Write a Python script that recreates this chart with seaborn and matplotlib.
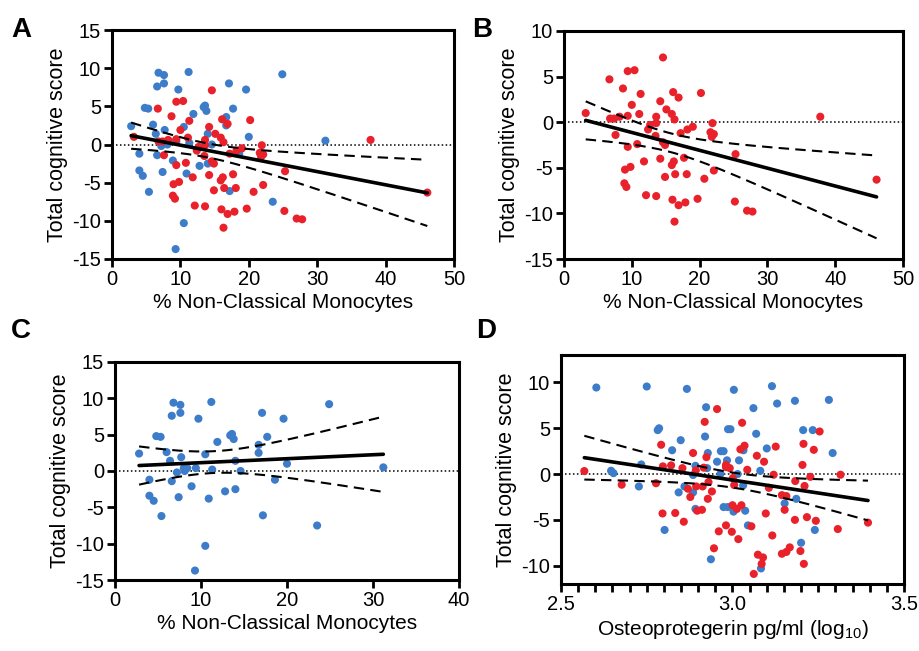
import numpy as np
import pandas as pd
import seaborn as sns
import matplotlib
matplotlib.use("Agg")
import matplotlib.pyplot as plt
from matplotlib.ticker import MultipleLocator, FormatStrFormatter

# --- data ---
# blue group (panel C), % non-classical monocytes vs total cognitive score
blue_mono = [2.8, 4.0, 4.0, 4.5, 5.4, 4.8, 5.3, 6.0, 6.4, 6.6, 6.8, 7.6, 7.6, 6.6,
             7.7, 7.4, 7.2, 8.0, 8.4, 8.1, 8.9, 9.3, 9.7, 10.5, 10.5, 9.4, 11.2,
             10.9, 11.3, 11.9, 12.8, 13.4, 13.6, 13.8, 14.0, 14.0, 14.6, 16.7,
             16.7, 17.1, 17.2, 17.7, 18.6, 19.6, 20.0, 23.5, 24.9, 31.2]
blue_score = [2.4, -1.2, -3.4, -4.1, -6.2, 4.8, 4.7, 2.6, 1.4, -1.4, 9.4, 9.1, 8.0,
              7.6, 1.9, -3.6, -0.2, 0.4, 0.4, 0.0, -2.1, -13.7, 7.2, 2.3, -10.3,
              0.4, 9.5, -3.8, 0.2, 4.0, -2.8, 4.9, 5.1, 4.4, 1.4, -2.5, 0.0, 3.6,
              2.5, 8.0, -6.1, 4.7, -1.2, 7.2, 1.0, -7.5, 9.2, 0.5]

# red group (panel B)
red_mono = [3.2, 6.7, 6.8, 7.4, 8.2, 7.6, 8.7, 9.4, 9.4, 10.4, 10.0, 9.4, 9.0, 9.8,
            8.9, 9.2, 10.8, 11.1, 11.3, 11.8, 12.1, 12.4, 12.7, 13.6, 13.6, 13.6,
            13.5, 14.2, 14.6, 14.2, 14.6, 14.9, 14.9, 15.1, 15.9, 16.3, 16.1, 16.9,
            15.9, 16.2, 16.4, 16.0, 16.3, 16.9, 17.9, 17.2, 17.7, 18.1, 18.2, 19.0,
            19.7, 20.2, 20.7, 21.9, 21.6, 22.1, 21.8, 22.1, 25.3, 25.2, 27.0, 27.8,
            37.8, 46.1]
red_score = [1.0, 4.7, 0.4, 0.4, 0.6, -1.4, 3.7, 0.7, 5.6, 5.7, 1.9, -2.7, -5.2,
             -4.9, -6.7, -7.1, -2.4, 0.9, 3.1, -4.3, -8.0, -0.8, -0.3, -8.1, 0.6,
             -0.1, -1.5, 2.3, 7.1, -4.0, -2.2, -2.5, -6.0, 1.4, 0.9, 0.3, 3.3, 2.7,
             -4.7, -4.3, -5.7, -8.5, -10.9, -9.1, -8.8, -1.2, -3.9, -5.7, -0.8, -0.5,
             -8.4, 3.2, -6.2, -0.1, -1.1, -1.3, -1.6, -5.3, -3.5, -8.7, -9.7, -9.8,
             0.6, -6.3]

# panel D, osteoprotegerin (log10 pg/ml)
blue_opg = [2.603, 2.750, 2.867, 3.004, 3.115, 3.130, 3.182, 3.281, 2.923, 3.061,
            2.786, 2.782, 2.849, 2.824, 2.920, 2.987, 2.994, 3.069, 3.206, 3.234,
            3.100, 3.292, 2.966, 2.974, 2.928, 2.734, 2.646, 2.653, 2.727, 2.955,
            2.984, 3.019, 3.032, 2.892, 2.885, 2.965, 3.015, 3.081, 2.926, 2.860,
            2.843, 2.885, 3.031, 2.974, 2.986, 3.003, 3.037, 2.892, 3.152, 3.186,
            2.802, 3.045, 3.240, 3.200, 2.937, 3.083]
blue_opg_score = [9.45, 9.56, 9.3, 9.2, 9.6, 7.7, 8.0, 8.1, 7.3, 7.2,
                  5.0, 4.8, 3.7, 2.6, 4.1, 4.9, 4.9, 4.4, 4.8, 4.8,
                  2.8, 2.3, 2.5, 2.5, 2.3, 1.05, 0.36, 0.1, -1.35, 1.35,
                  1.5, 1.5, 2.6, 0.9, -0.1, 0.04, 0.0, 0.36, 0.65, -1.35,
                  -2.0, -2.0, -1.24, -3.6, -3.6, -4.1, -4.0, -3.8, -3.2, -2.7,
                  -6.1, -5.6, -6.1, -7.5, -9.3, -10.3]
red_opg = [2.568, 2.677, 2.777, 2.792, 2.797, 2.821, 2.854, 2.796, 2.833, 2.858,
           2.885, 2.893, 2.916, 2.924, 2.919, 2.955, 2.870, 2.877, 2.894, 2.913,
           2.930, 2.940, 2.928, 2.897, 2.911, 2.981, 2.992, 2.981, 3.001, 3.005,
           3.028, 3.023, 3.035, 3.043, 3.071, 3.092, 3.106, 3.120, 3.126, 3.144,
           3.157, 3.152, 3.183, 3.182, 3.204, 3.207, 3.210, 3.227, 3.237, 3.254,
           3.217, 3.243, 3.315, 3.307, 3.395, 2.960, 2.981, 2.998, 3.017, 3.000,
           3.013, 3.026, 3.055, 3.097, 3.116, 2.946, 3.074, 3.089, 3.085, 3.062,
           3.144, 3.157, 3.167, 3.198, 3.208]
red_opg_score = [0.33, -1.16, -1.0, 3.2, 0.84, 0.95, 0.65, -4.3, -4.25, -5.2,
                 2.3, 0.4, 0.7, 1.85, 5.7, 7.1, -1.6, -2.5, -1.35, -1.35,
                 -0.87, -1.9, -2.7, -4.0, -3.9, 0.76, 0.65, 1.0, -0.44, -1.2,
                 5.6, 2.7, 3.1, 0.47, 2.0, 1.35, -1.5, -0.07, 3.0, -2.3,
                 -2.4, -3.9, -0.76, -5.0, 1.0, 3.3, -1.3, -0.3, 2.65, 4.65,
                 -4.7, -5.1, -0.07, -6.0, -5.3, -6.25, -5.6, -6.3, -7.1, -3.4,
                 -3.8, -3.4, -5.7, -4.3, -6.7, -8.1, -8.8, -9.1, -9.8, -10.9,
                 -8.7, -8.5, -8.0, -8.4, -9.8]

BLUE = "#3D7CC9"
RED = "#E8212B"

sns.set_style("ticks", {"axes.edgecolor": "black", "xtick.color": "black",
                        "ytick.color": "black", "text.color": "black",
                        "axes.labelcolor": "black"})
plt.rcParams["font.family"] = ["Liberation Sans", "DejaVu Sans"]
plt.rcParams["mathtext.fontset"] = "custom"
plt.rcParams["mathtext.rm"] = "Liberation Sans"
plt.rcParams["axes.unicode_minus"] = False
plt.rcParams["axes.linewidth"] = 2.2


def make_df(x, y, group):
    return pd.DataFrame({"x": x, "y": y, "group": group})


def fit_with_ci(ax, df):
    # least squares line + 95% confidence band of the fit
    x = df["x"].to_numpy()
    y = df["y"].to_numpy()
    n = len(x)
    slope, icpt = np.polyfit(x, y, 1)
    resid = y - (slope * x + icpt)
    s = np.sqrt((resid ** 2).sum() / (n - 2))
    sxx = ((x - x.mean()) ** 2).sum()
    xs = np.linspace(x.min(), x.max(), 200)
    yh = slope * xs + icpt
    half = 1.98 * s * np.sqrt(1 / n + (xs - x.mean()) ** 2 / sxx)
    ax.plot(xs, yh, color="black", lw=2.6, zorder=4)
    ax.plot(xs, yh + half, color="black", lw=1.5, ls=(0, (5, 3)), zorder=4)
    ax.plot(xs, yh - half, color="black", lw=1.5, ls=(0, (5, 3)), zorder=4)


def panel(ax, df, palette, xlim, ylim, xstep, ystep, xlabel):
    ax.axhline(0, color="black", lw=1.1, ls=(0, (1, 1.6)), zorder=1)
    sns.scatterplot(data=df, x="x", y="y", hue="group", palette=palette,
                    s=34, edgecolor="none", legend=False, ax=ax, zorder=3)
    fit_with_ci(ax, df)
    ax.set_xlim(*xlim)
    ax.set_ylim(*ylim)
    ax.xaxis.set_major_locator(MultipleLocator(xstep))
    ax.yaxis.set_major_locator(MultipleLocator(ystep))
    ax.set_xlabel(xlabel, fontsize=15, labelpad=3)
    ax.set_ylabel("Total cognitive score", fontsize=15.5, labelpad=3)
    ax.tick_params(axis="both", labelsize=14.5, width=2, length=6, direction="out", pad=2)
    for sp in ax.spines.values():
        sp.set_visible(True)
        sp.set_linewidth(2.2)


fig = plt.figure(figsize=(9.19, 6.51), dpi=100)
W, H = 919, 651


def add_ax(left, top, right, bottom):
    return fig.add_axes([left / W, 1 - bottom / H, (right - left) / W, (bottom - top) / H])


df_b = make_df(blue_mono, blue_score, "blue")
df_r = make_df(red_mono, red_score, "red")
df_all = pd.concat([df_b, df_r], ignore_index=True)
pal = {"blue": BLUE, "red": RED}

axA = add_ax(112, 30, 454, 259)
panel(axA, df_all, pal, (0, 50), (-15, 15), 10, 5, "% Non-Classical Monocytes")

axB = add_ax(564, 31, 903, 259)
panel(axB, df_r, pal, (0, 50), (-15, 10), 10, 5, "% Non-Classical Monocytes")

axC = add_ax(115, 362, 459, 580)
panel(axC, df_b, pal, (0, 40), (-15, 15), 10, 5, "% Non-Classical Monocytes")

df_d = pd.concat([make_df(blue_opg, blue_opg_score, "blue"),
                  make_df(red_opg, red_opg_score, "red")], ignore_index=True)
axD = add_ax(561, 355, 904, 584)
panel(axD, df_d, pal, (2.5, 3.5), (-12, 13), 0.5, 5,
      "Osteoprotegerin pg/ml (log$_{10}$)")
axD.xaxis.set_major_formatter(FormatStrFormatter("%.1f"))
axD.xaxis.set_minor_locator(MultipleLocator(0.05))
axD.tick_params(axis="x", which="minor", width=2, length=6)

# panel letters
for letter, (px, py) in {"A": (11, 37), "B": (472, 37), "C": (11, 338), "D": (476, 338)}.items():
    fig.text(px / W, 1 - py / H, letter, fontsize=20, fontweight="bold", color="black")

fig.savefig("out.png", dpi=100)
